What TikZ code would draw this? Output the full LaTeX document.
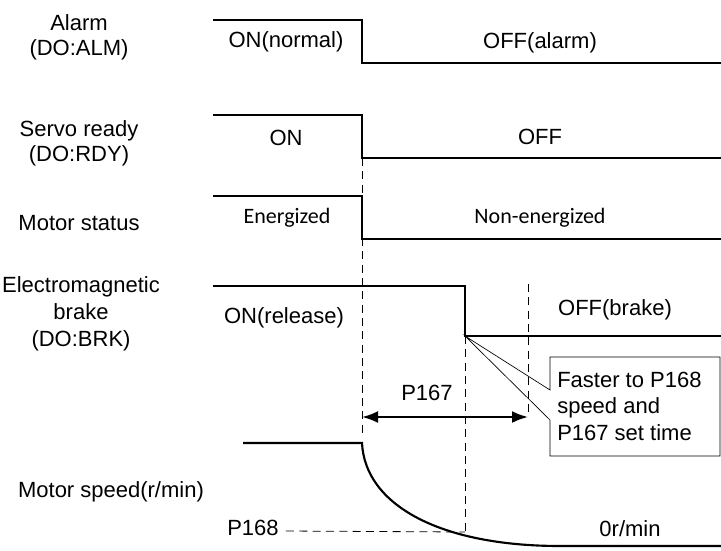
\documentclass[tikz,border=0pt]{standalone}
\usepackage{fontspec}
\setmainfont{Liberation Sans}
\newfontfamily\calfont{Carlito}
\usetikzlibrary{arrows.meta,calc}

\begin{document}
\begin{tikzpicture}[x=0.75pt, y=-0.75pt,
  sig/.style={line width=1.6pt, line join=miter},
  guide/.style={line width=0.6pt, dash pattern=on 6pt off 4pt},
  lbl/.style={font=\fontsize{16.5}{19}\selectfont, align=center, inner sep=0pt},
  state/.style={font=\fontsize{16.5}{19}\selectfont, inner sep=0pt},
  arrow/.style={{Latex[length=12pt,width=9pt]}-{Latex[length=12pt,width=9pt]}, line width=1.7pt},
  callout/.style={line width=0.5pt},
]
\useasboundingbox (0,0) rectangle (721,550);

% === SIGNAL NAMES (left) ===
\node[lbl] (alm) at (79,37)  {Alarm\\(DO:ALM)};
\node[lbl] (rdy) at (79,143) {Servo ready\\(DO:RDY)};
\node[lbl] (mot) at (79,223) {Motor status};
\node[lbl, font=\fontsize{16.5}{20.2}\selectfont] (brk) at (81,314) {Electromagnetic\\brake\\(DO:BRK)};
\node[lbl] (spd) at (111,492) {Motor speed(r/min)};

% === DIGITAL SIGNALS ===
\draw[sig] (213,20)  -| (362,63)  -- (721,63);
\draw[sig] (213,115) -| (362,158) -- (721,158);
\draw[sig] (213,196) -| (362,239) -- (721,239);
\draw[sig] (213,286) -| (465,336) -- (721,336);

\node[state] (almon)  at (286,42)  {ON(normal)};
\node[state] (almoff) at (540,43)  {OFF(alarm)};
\node[state] (rdyon)  at (286,138) {ON};
\node[state] (rdyoff) at (540,137) {OFF};
\node[state, font=\calfont\fontsize{16.5}{19}\selectfont] (moton)  at (287,218) {Energized};
\node[state, font=\calfont\fontsize{16.5}{19}\selectfont] (motoff) at (540,218) {Non-energized};
\node[state] (brkon)  at (284,318) {ON(release)};
\node[state] (brkoff) at (615,310) {OFF(brake)};

% === MOTOR SPEED ===
\draw[sig] (243,443) -- (362,443) .. controls (365,505) and (440,546) .. (560,546) -- (721,546);
\node[state] (p168) at (253,528) {P168};
\node[state] (zero) at (630,529) {0r/min};

% timing guides
\coordinate (t0) at (362,417);
\coordinate (t1) at (528,417);
\coordinate (hit) at (465,532);
\draw[guide] (362,158) -- (362,437);
\draw[guide] (465,336) -- (hit);
\draw[guide] (528,284) -- (t1);
\draw[guide] ($(p168.east)+(7,3)$) -- (hit);

\draw[arrow] (t0) -- (t1);
\node[state] (p167) at (427,393) {P167};

% === CALLOUT ===
\coordinate (tip) at (465,336);
\draw[callout] (550,357) -- (550,390) -- (tip) -- (550,420) -- (550,456)
  -- (720,456) -- (720,357) -- cycle;
\node[state, align=left, anchor=west, font=\fontsize{16.5}{19.9}\selectfont] (note) at (557,406)
  {Faster to P168\\speed and\\P167 set time};
\end{tikzpicture}
\end{document}
